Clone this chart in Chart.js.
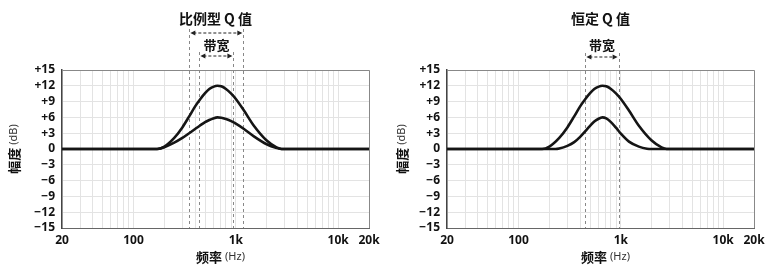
<!DOCTYPE html>
<html>
<head>
<meta charset="utf-8">
<script src="https://cdn.jsdelivr.net/npm/chart.js@4.4.0/dist/chart.umd.min.js"></script>
<style>
html,body{margin:0;padding:0;background:#fff;}
#wrap{position:relative;width:781px;height:271px;}
.caja{position:absolute;top:0;height:271px;}
</style>
</head>
<body>
<div id="wrap">
  <div class="caja" style="left:0;width:390px"><canvas id="cProp"></canvas></div>
  <div class="caja" style="left:390px;width:391px"><canvas id="cConst"></canvas></div>
</div>
<script>
// frecuencias (Hz) y ganancias (dB)
const frecProp = [20, 150, 170, 200, 250, 300, 350, 400, 450, 500, 550, 600, 660, 720, 800, 900, 1000, 1200, 1500, 2000, 2500, 2800, 20000];
const gan12Prop = [0, 0, 0, 0.45, 2.1, 4.1, 6.2, 8.1, 9.5, 10.6, 11.4, 11.8, 12, 11.9, 11.4, 10.5, 9.5, 7.3, 4.4, 1.6, 0.3, 0, 0];
const gan6Prop  = [0, 0, 0, 0.35, 1.2, 2.1, 3.0, 3.8, 4.5, 5.1, 5.5, 5.8, 6, 5.95, 5.7, 5.3, 4.8, 3.8, 2.4, 0.9, 0.2, 0, 0];

const frecConst12 = [20, 150, 170, 200, 250, 300, 350, 400, 450, 500, 550, 600, 660, 720, 800, 900, 1000, 1200, 1500, 2000, 2500, 2800, 20000];
const gan12Const  = [0, 0, 0, 0.45, 2.1, 4.1, 6.2, 8.1, 9.5, 10.6, 11.4, 11.8, 12, 11.9, 11.4, 10.5, 9.5, 7.3, 4.4, 1.6, 0.3, 0, 0];
const frecConst6  = [20, 200, 230, 250, 300, 350, 400, 450, 500, 550, 600, 660, 720, 800, 900, 1000, 1200, 1500, 1800, 2000, 20000];
const gan6Const   = [0, 0, 0, 0.1, 0.6, 1.3, 2.3, 3.4, 4.4, 5.2, 5.7, 6, 5.8, 5.1, 4.0, 2.9, 1.4, 0.45, 0.05, 0, 0];

// anchos de banda marcados arriba (Hz)
const anchoProp = [351, 1183];   // 比例型Q值
const bandaProp = [440, 946];    // 带宽
const bandaConst = [450, 951];   // 带宽

// ejes
const gridX = [20,30,40,50,60,70,80,90,100,200,300,400,500,600,700,800,900,1000,2000,3000,4000,5000,6000,7000,8000,9000,10000,20000];
const xTickVals = [20, 100, 1000, 10000, 20000];
const xTickLabels = ['20', '100', '1k', '10k', '20k'];
const yMin = -15, yMax = 15, yPaso = 3;

const fuente = '"Noto Sans", "Noto Sans CJK SC", sans-serif';
const fuenteCJK = '"Noto Sans CJK SC", "Noto Sans", sans-serif';

function puntos(xs, ys){
  return xs.map((x, i) => ({x: x, y: ys[i]}));
}

function flecha(ctx, x1, x2, y){
  ctx.save();
  ctx.strokeStyle = '#222';
  ctx.fillStyle = '#222';
  ctx.lineWidth = 1;
  ctx.setLineDash([3, 2]);
  ctx.beginPath();
  ctx.moveTo(x1 + 4, y);
  ctx.lineTo(x2 - 4, y);
  ctx.stroke();
  ctx.setLineDash([]);
  ctx.beginPath();
  ctx.moveTo(x1 + 1, y); ctx.lineTo(x1 + 6, y - 2.5); ctx.lineTo(x1 + 6, y + 2.5); ctx.closePath();
  ctx.moveTo(x2 - 1, y); ctx.lineTo(x2 - 6, y - 2.5); ctx.lineTo(x2 - 6, y + 2.5); ctx.closePath();
  ctx.fill();
  ctx.restore();
}

const marcas = {
  id: 'marcas',
  beforeDatasetsDraw(chart, args, opts){
    const ctx = chart.ctx, ca = chart.chartArea, sx = chart.scales.x;
    ctx.save();
    ctx.strokeStyle = '#888';
    ctx.lineWidth = 1;
    ctx.setLineDash([3, 3]);
    opts.bandas.forEach(b => {
      b.frec.forEach(f => {
        const px = Math.round(sx.getPixelForValue(f)) + 0.5;
        ctx.beginPath();
        ctx.moveTo(px, b.desde);
        ctx.lineTo(px, ca.bottom);
        ctx.stroke();
      });
    });
    ctx.restore();
  },
  afterDraw(chart, args, opts){
    const ctx = chart.ctx, ca = chart.chartArea, sx = chart.scales.x;
    // marco
    ctx.save();
    ctx.strokeStyle = '#888';
    ctx.lineWidth = 1;
    ctx.beginPath();
    ctx.moveTo(ca.left, ca.top + 0.5); ctx.lineTo(ca.right + 0.5, ca.top + 0.5); ctx.lineTo(ca.right + 0.5, ca.bottom);
    ctx.stroke();
    ctx.restore();

    ctx.save();
    ctx.fillStyle = '#111';
    ctx.textAlign = 'center';
    ctx.textBaseline = 'middle';
    const cx = (ca.left + ca.right) / 2;
    ctx.font = 'bold 14px ' + fuenteCJK;
    ctx.fillText(opts.titulo, cx, 19);

    opts.bandas.forEach(b => {
      const x1 = sx.getPixelForValue(b.frec[0]);
      const x2 = sx.getPixelForValue(b.frec[1]);
      flecha(ctx, x1, x2, b.yFlecha);
      if (b.texto){
        ctx.font = 'bold 13px ' + fuenteCJK;
        ctx.fillStyle = '#111';
        ctx.fillText(b.texto, (x1 + x2) / 2, b.yTexto);
      }
    });

    // titulo eje x
    const tx = cx + 5, ty = 257;
    ctx.font = 'bold 13px ' + fuenteCJK;
    const w1 = ctx.measureText('频率 ').width;
    ctx.font = '11px ' + fuente;
    const w2 = ctx.measureText('(Hz)').width;
    const x0 = tx - (w1 + w2) / 2;
    ctx.textAlign = 'left';
    ctx.font = 'bold 13px ' + fuenteCJK;
    ctx.fillText('频率 ', x0, ty);
    ctx.font = '11px ' + fuente;
    ctx.fillStyle = '#333';
    ctx.fillText('(Hz)', x0 + w1, ty);

    // titulo eje y
    ctx.translate(opts.yTituloX, (ca.top + ca.bottom) / 2);
    ctx.rotate(-Math.PI / 2);
    ctx.fillStyle = '#111';
    ctx.font = 'bold 13px ' + fuenteCJK;
    const v1 = ctx.measureText('幅度 ').width;
    ctx.font = '11px ' + fuente;
    const v2 = ctx.measureText('(dB)').width;
    const y0 = -(v1 + v2) / 2;
    ctx.font = 'bold 13px ' + fuenteCJK;
    ctx.fillText('幅度 ', y0, 0);
    ctx.font = '11px ' + fuente;
    ctx.fillStyle = '#333';
    ctx.fillText('(dB)', y0 + v1, 0);
    ctx.restore();
  }
};

function crearGrafico(id, series, conf){
  const ctx = document.getElementById(id);
  return new Chart(ctx, {
    type: 'line',
    data: {
      datasets: series.map(s => ({
        data: puntos(s.x, s.y),
        borderColor: '#151515',
        borderWidth: 2.6,
        pointRadius: 0,
        cubicInterpolationMode: 'monotone',
        fill: false
      }))
    },
    options: {
      responsive: true,
      maintainAspectRatio: false,
      animation: false,
      events: [],
      layout: { padding: { left: 0, top: 70, right: conf.derecha, bottom: 0 } },
      plugins: {
        legend: { display: false },
        tooltip: { enabled: false },
        marcas: conf.marcas
      },
      scales: {
        x: {
          type: 'logarithmic',
          min: 20,
          max: 20000,
          afterBuildTicks: scale => { scale.ticks = gridX.map(v => ({ value: v })); },
          afterFit: scale => { scale.height = 43; },
          grid: { color: '#e3e3e3', lineWidth: 1, drawTicks: false },
          border: { display: true, color: '#666', width: 1 },
          ticks: {
            autoSkip: false,
            maxRotation: 0,
            padding: 5,
            color: '#111',
            font: { family: fuente, size: 12, weight: 'bold' },
            callback: v => {
              const i = xTickVals.indexOf(v);
              return i >= 0 ? xTickLabels[i] : '';
            }
          }
        },
        y: {
          min: yMin,
          max: yMax,
          afterFit: scale => { scale.width = conf.anchoY; },
          grid: { color: '#e3e3e3', lineWidth: 1, drawTicks: false },
          border: { display: true, color: '#444', width: 1.5 },
          ticks: {
            stepSize: yPaso,
            autoSkip: false,
            padding: 7,
            color: '#111',
            font: { family: fuente, size: 12, weight: 'bold' },
            callback: v => v > 0 ? '+' + v : (v < 0 ? '\u2212' + (-v) : '0')
          }
        }
      }
    },
    plugins: [marcas]
  });
}

crearGrafico('cProp', [
  { x: frecProp, y: gan12Prop },
  { x: frecProp, y: gan6Prop }
], {
  derecha: 21,
  anchoY: 62,
  marcas: {
    titulo: '比例型 Q 值',
    yTituloX: 14,
    bandas: [
      { frec: anchoProp, desde: 29, yFlecha: 33, texto: null, yTexto: 0 },
      { frec: bandaProp, desde: 52, yFlecha: 56, texto: '带宽', yTexto: 45 }
    ]
  }
});

crearGrafico('cConst', [
  { x: frecConst12, y: gan12Const },
  { x: frecConst6, y: gan6Const }
], {
  derecha: 27,
  anchoY: 57,
  marcas: {
    titulo: '恒定 Q 值',
    yTituloX: 12,
    bandas: [
      { frec: bandaConst, desde: 53, yFlecha: 57, texto: '带宽', yTexto: 45 }
    ]
  }
});
</script>
</body>
</html>
